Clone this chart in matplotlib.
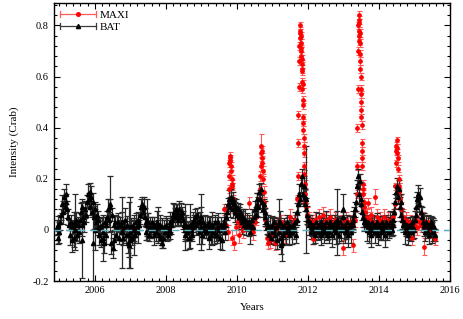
import numpy as np
import matplotlib
matplotlib.use("Agg")
import matplotlib.pyplot as plt
from matplotlib.ticker import MultipleLocator, FuncFormatter
from matplotlib.lines import Line2D
from matplotlib.legend_handler import HandlerBase

plt.rcParams['font.family'] = ['Liberation Serif', 'DejaVu Serif']
plt.rcParams['axes.unicode_minus'] = False

# ---------------- BAT (Swift) daily-ish light curve ----------------
bat_start = 2004.93
bat_step = 0.025
bat_v = [
    .01, -.03, .02, -.01, .03, .06, .10, .07, .13, .09, .14, .11,
    .08, .05, .02, -.02, .03, -.04, .01, .02, -.03, .00, .04, -.02,
    .02, -.01, .04, .07, .02, .09, .05, .03, .08, .06, .11, .14,
    .12, .15, .09, .13, .07, .11, .05, .08, .03, .06, .01, .04,
    -.02, .01, -.04, .02, -.01, -.05, .03, -.02, .02, .05, .08, .04,
    .09, -.05, .06, -.07, .02, -.04, .03, -.02, .01, .03, -.03, .02,
    .02, -.01, .03, -.03, .01, .04, -.02, .02, -.05, -.06, .01, -.04,
    .01, -.03, .02, .00, -.02, .03, .01, -.01, .04, .02, .06, .09,
    .10, .07, .09, .05, .03, -.01, .02, .03, -.02, .01, .00, .03,
    .01, -.02, .02, .00, -.01, .03, .01, -.02, .02, -.03, .01, -.05,
    -.03, .01, -.01, .02, .00, -.02, .01, .03, -.01, .02, .04, .06,
    .07, .05, .08, .06, .07, .04, .08, .05, .06, .07, .04, .02,
    .00, -.02, .02, -.01, .01, -.03, .02, .00, -.02, .03, .01, .04,
    .05, .02, .06, .03, -.01, .04, .01, .05, -.02, .03, .00, .02,
    -.01, .02, .00, -.03, .03, .01, -.02, .02, .00, -.01, .03, -.02,
    .01, -.02, .03, .00, -.03, .02, -.04, .01, .03, -.01, .02, .05,
    .07, .10, .12, .09, .13, .11, .08, .12, .10, .07, .09, .06,
    .08, .05, .07, .04, .06, .03, .05, .02, .04, .01, .03, .02,
    .01, .03, -.01, .02, .04, .01, .05, .08, .06, .10, .12, .09,
    .15, .12, .16, .11, .08, .10, .05, .07, .03, .01, .02, -.02,
    .01, -.03, .02, -.01, .00, .03, -.02, .01, -.04, .02, -.01, .03,
    -.06, -.03, .01, -.02, .02, .00, -.01, .03, .01, -.02, .02, .00,
    .01, -.01, .02, .00, .03, -.02, .04, .07, .10, .14, .12, .18,
    .21, .14, .17, .10, .13, .08, .06, .04, .02, .03, -.01, .01,
    -.01, .02, .00, -.02, .03, .01, -.01, .02, .00, .03, -.02, .01,
    .02, -.01, .01, .03, -.02, .00, .02, -.01, .03, .01, -.02, .02,
    .00, .03, -.01, .02, .04, .01, -.02, .03, .00, .02, .05, .01,
    -.01, .02, .00, .03, -.02, .01, .02, -.01, .03, .02, .04, .06,
    .08, .11, .17, .21, .14, .19, .10, .12, .07, .05, .03, .04,
    .02, .00, .03, -.01, .02, .01, -.02, .03, .00, .02, -.01, .01,
    .03, .00, -.02, .02, .01, -.01, .03, .00, .02, -.02, .01, .03,
    .00, .02, -.01, .03, .01, .00, .02, .04, .07, .11, .15, .17,
    .13, .16, .09, .11, .06, .04, .02, .03, -.01, .01, .02, -.02,
    .01, .00, .02, -.01, .03, .01, .00, .04, .06, .09, .12, .14,
    .10, .13, .07, .05, .03, .01, .02, -.01, .03, .00, .02, -.02,
    .01, .03, -.01, .02, .00, .01, -.02,
]
bat_e = [
    .03, .025, .035, .04, .03, .02, .035, .045, .03, .025, .04, .03,
    .035, .03, .02, .04, .03, .045, .025, .05, .035, .04, .03, .025,
    .03, .04, .025, .035, .045, .03, .02, .04, .035, .03, .025, .04,
    .025, .035, .03, .04, .02, .035, .045, .03, .025, .04, .03, .035,
    .04, .035, .025, .03, .045, .04, .02, .035, .03, .025, .04, .03,
    .03, .045, .025, .04, .035, .04, .03, .02, .045, .035, .025, .03,
    .02, .035, .04, .03, .025, .045, .03, .035, .04, .045, .025, .03,
    .035, .03, .02, .045, .03, .035, .025, .04, .03, .02, .035, .03,
    .03, .025, .04, .035, .02, .03, .045, .035, .025, .04, .03, .02,
    .025, .04, .03, .02, .035, .045, .03, .025, .04, .03, .035, .02,
    .04, .03, .025, .035, .045, .02, .03, .04, .025, .035, .03, .045,
    .03, .035, .02, .04, .03, .025, .035, .03, .045, .02, .035, .03,
    .035, .025, .04, .03, .02, .045, .03, .035, .025, .04, .03, .02,
    .03, .04, .025, .035, .045, .03, .02, .04, .035, .025, .03, .04,
    .02, .035, .03, .045, .025, .04, .035, .03, .02, .045, .03, .025,
    .04, .03, .035, .02, .045, .03, .04, .025, .035, .03, .02, .04,
    .03, .025, .035, .04, .03, .02, .035, .03, .025, .04, .03, .035,
    .025, .04, .03, .035, .02, .045, .03, .025, .04, .03, .035, .02,
    .035, .03, .045, .025, .04, .03, .02, .035, .03, .045, .025, .04,
    .03, .035, .025, .04, .03, .02, .035, .045, .03, .025, .04, .03,
    .04, .025, .035, .03, .045, .02, .04, .03, .035, .025, .03, .045,
    .035, .03, .02, .04, .025, .035, .045, .03, .02, .04, .03, .025,
    .03, .045, .025, .035, .04, .03, .02, .035, .03, .04, .025, .03,
    .03, .035, .04, .025, .03, .045, .035, .02, .04, .03, .025, .035,
    .045, .02, .035, .03, .04, .025, .03, .045, .035, .02, .04, .03,
    .025, .04, .03, .045, .02, .035, .025, .04, .03, .035, .045, .02,
    .035, .03, .045, .02, .035, .04, .03, .025, .045, .03, .02, .04,
    .04, .025, .035, .03, .045, .02, .035, .04, .025, .03, .035, .03,
    .03, .035, .025, .03, .04, .03, .035, .025, .03, .04, .035, .03,
    .02, .045, .03, .04, .025, .035, .045, .03, .02, .035, .04, .03,
    .035, .025, .04, .02, .045, .03, .025, .04, .035, .045, .02, .03,
    .04, .03, .02, .045, .035, .025, .04, .03, .035, .03, .025, .035,
    .03, .035, .04, .03, .025, .035, .03, .02, .045, .035, .025, .04,
    .025, .04, .03, .035, .02, .045, .03, .035, .025, .04, .03, .035,
    .03, .035, .025, .04, .03, .02, .045, .035, .025, .03, .04, .035,
    .035, .025, .04, .03, .045, .03, .025,
]
# BAT points with large uncertainties
batx_t = [2005.44, 2005.63, 2005.94, 2006.00, 2006.23, 2006.42, 2006.76, 2006.97,
          2007.00, 2007.10, 2007.46, 2007.77, 2008.55, 2008.68, 2009.00, 2009.30,
          2011.20, 2011.27, 2011.95, 2012.82, 2012.98]
batx_v = [.03, -.04, -.05, .00, -.03, .10, -.01, -.02,
          -.01, -.02, .04, .02, .01, .015, .03, .005,
          .03, -.05, .12, .03, .08]
batx_e = [.11, .15, .15, .08, .09, .11, .14, .13,
          .14, .08, .08, .07, .09, .085, .11, .065,
          .09, .07, .21, .13, .06]

# ---------------- MAXI light curve ----------------
maxi_t = [2009.65, 2009.70, 2009.75, 2009.87, 2009.92, 2009.97, 2010.02, 2010.07, 2010.12,
          2010.17, 2010.22, 2010.27, 2010.34, 2010.40, 2010.45, 2010.50, 2010.55, 2010.80,
          2010.85, 2010.88, 2010.92, 2010.97, 2011.02, 2011.08, 2011.14, 2011.20, 2011.25,
          2011.30, 2011.36, 2011.42, 2011.49, 2011.55, 2011.60, 2011.65, 2011.97, 2012.02,
          2012.07, 2012.12, 2012.15, 2012.20, 2012.25, 2012.30, 2012.35, 2012.42, 2012.47,
          2012.52, 2012.57, 2012.62, 2012.67, 2012.72, 2012.77, 2012.87, 2012.93, 2012.98,
          2013.03, 2013.08, 2013.13, 2013.18, 2013.22, 2013.27, 2013.32, 2013.62, 2013.66,
          2013.69, 2013.74, 2013.78, 2013.83, 2013.89, 2013.94, 2013.99, 2014.04, 2014.09,
          2014.14, 2014.19, 2014.24, 2014.29, 2014.34, 2014.39, 2014.62, 2014.67, 2014.72,
          2014.77, 2014.82, 2014.87, 2014.93, 2014.98, 2015.03, 2015.08, 2015.13, 2015.18,
          2015.23, 2015.27, 2015.32, 2015.37, 2015.42, 2015.47, 2015.52, 2015.58]
maxi_v = [.08, .02, -.01, -.03, -.05, .01, .03, -.02, .02,
          .00, .03, .01, .105, .02, -.01, .03, .05, .04,
          -.03, -.05, -.04, -.02, .01, -.05, .02, .00, .03,
          .01, -.02, .02, .05, .01, .03, .04, .06, .04,
          .02, .03, -.035, .04, .02, .05, .01, .06, .03,
          .04, .02, .05, .01, .03, .04, .02, .03, -.07,
          .02, .04, .01, .03, .02, -.06, .04, .07, .05,
          .105, .04, .06, .03, .13, .05, .02, .04, .03,
          .05, .02, .04, .01, .03, .05, .08, .05, .03,
          .04, .01, .03, -.03, .02, .04, .01, .03, .02,
          .04, -.065, .01, .03, .00, .02, .01, -.035]
maxi_e = [.02, .03, .03, .03, .03, .03, .03, .03, .03,
          .03, .03, .03, .025, .03, .03, .03, .03, .03,
          .03, .025, .03, .03, .03, .03, .03, .03, .03,
          .03, .03, .03, .03, .03, .03, .03, .03, .03,
          .03, .03, .02, .03, .03, .03, .03, .03, .03,
          .03, .03, .03, .03, .03, .03, .03, .03, .03,
          .03, .03, .03, .03, .03, .025, .03, .03, .03,
          .02, .03, .03, .03, .03, .03, .03, .03, .03,
          .03, .03, .03, .03, .03, .03, .03, .03, .03,
          .03, .03, .03, .03, .03, .03, .03, .03, .03,
          .03, .035, .03, .03, .03, .03, .03, .025]
# MAXI outbursts
maxi_ob_t = [2009.77, 2009.78, 2009.79, 2009.80, 2009.81, 2009.82, 2009.83, 2009.84, 2009.85,
             2009.86, 2009.87, 2009.88, 2009.90,
             2010.64, 2010.65, 2010.66, 2010.67, 2010.68, 2010.69, 2010.70, 2010.71, 2010.72,
             2010.73, 2010.74, 2010.75, 2010.76,
             2011.70, 2011.71, 2011.72, 2011.73, 2011.74, 2011.75, 2011.76, 2011.77, 2011.78,
             2011.785, 2011.79, 2011.795, 2011.80, 2011.805, 2011.81, 2011.815, 2011.82,
             2011.825, 2011.83, 2011.835, 2011.84, 2011.845, 2011.85, 2011.855, 2011.86,
             2011.865, 2011.87, 2011.875, 2011.88, 2011.885, 2011.89, 2011.895, 2011.90,
             2011.91, 2011.92, 2011.93, 2011.94,
             2013.37, 2013.38, 2013.39, 2013.40, 2013.41, 2013.42, 2013.425, 2013.43, 2013.435,
             2013.44, 2013.445, 2013.45, 2013.455, 2013.46, 2013.465, 2013.47, 2013.475,
             2013.48, 2013.485, 2013.49, 2013.495, 2013.50, 2013.505, 2013.51, 2013.515,
             2013.52, 2013.525, 2013.53, 2013.54, 2013.55, 2013.56, 2013.57, 2013.58,
             2014.45, 2014.46, 2014.47, 2014.48, 2014.49, 2014.50, 2014.51, 2014.52, 2014.53,
             2014.54, 2014.55, 2014.56, 2014.57, 2014.58]
maxi_ob_v = [.16, .21, .26, .28, .27, .29, .25, .23, .20,
             .18, .17, .12, .08,
             .12, .16, .21, .25, .30, .33, .31, .28, .26,
             .23, .20, .15, .11,
             .12, .21, .34, .45, .56, .66, .72, .77, .80,
             .78, .75, .73, .76, .70, .68, .71, .65,
             .63, .67, .62, .58, .55, .57, .51, .49,
             .44, .42, .39, .36, .33, .30, .25, .22,
             .18, .14, .11, .09,
             .14, .25, .40, .55, .70, .80, .84, .82, .78,
             .81, .76, .74, .77, .73, .69, .66, .63,
             .60, .55, .53, .50, .47, .44, .41, .34,
             .31, .28, .25, .18, .16, .14, .11, .09,
             .10, .17, .26, .31, .33, .35, .32, .30, .28,
             .24, .20, .17, .15, .12]
maxi_ob_e = [.015, .015, .015, .015, .015, .015, .015, .015, .015,
             .015, .015, .015, .015,
             .02, .02, .02, .02, .02, .045, .02, .02, .02,
             .02, .02, .02, .02,
             .015, .015, .015, .015, .015, .015, .015, .015, .015,
             .015, .015, .015, .015, .015, .015, .015, .015,
             .015, .015, .015, .015, .015, .015, .015, .015,
             .015, .015, .015, .015, .015, .015, .015, .015,
             .015, .015, .015, .015,
             .015, .015, .015, .015, .015, .015, .015, .015, .015,
             .015, .015, .015, .015, .015, .015, .015, .015,
             .015, .015, .015, .015, .015, .015, .015, .015,
             .015, .015, .015, .015, .015, .015, .015, .015,
             .015, .015, .015, .015, .015, .015, .015, .015, .015,
             .015, .015, .015, .015, .015]

x_ticks = [2006, 2008, 2010, 2012, 2014, 2016]
y_ticks = [-0.2, 0, 0.2, 0.4, 0.6, 0.8]


class HandlerHErr(HandlerBase):
    """Legend key drawn as a horizontal error bar with a marker in the middle."""
    def __init__(self, color, ecolor, marker, ms):
        super().__init__()
        self.color, self.ecolor, self.marker, self.ms = color, ecolor, marker, ms

    def create_artists(self, legend, orig_handle, xdescent, ydescent, width, height,
                       fontsize, trans):
        y = height / 2.0 - ydescent
        x0, x1 = -xdescent, width - xdescent
        cap = 2.2
        arts = [
            Line2D([x0, x1], [y, y], color=self.ecolor, lw=0.9),
            Line2D([x0, x0], [y - cap, y + cap], color=self.ecolor, lw=0.9),
            Line2D([x1, x1], [y - cap, y + cap], color=self.ecolor, lw=0.9),
            Line2D([(x0 + x1) / 2], [y], marker=self.marker, ms=self.ms, color=self.color,
                   mec=self.color, ls='none'),
        ]
        for a in arts:
            a.set_transform(trans)
        return arts


# ---------------- plotting ----------------
fig = plt.figure(figsize=(4.64, 3.19), dpi=100)
ax = fig.add_axes([0.116, 0.119, 0.854, 0.871])

red_kw = dict(fmt='o', color='#ff0000', ms=2.4, mec='#ff0000', ecolor='#ff5a5a',
              elinewidth=0.8, capsize=1.8, capthick=0.8)
blk_kw = dict(fmt='^', color='black', ms=3.0, mec='black', ecolor='#2a2a2a',
              elinewidth=0.9, capsize=2.0, capthick=0.9)

ax.errorbar(maxi_t, maxi_v, yerr=maxi_e, **red_kw)
ax.errorbar(maxi_ob_t, maxi_ob_v, yerr=maxi_ob_e, **red_kw)

bat_t = bat_start + bat_step * np.arange(len(bat_v))
ax.errorbar(bat_t, bat_v, yerr=bat_e, **blk_kw)
ax.errorbar(batx_t, batx_v, yerr=batx_e, **blk_kw)

ax.axhline(0, color='#5db3c2', lw=1.0, ls=(0, (5, 3.5)), zorder=10)

ax.set_xlim(2004.85, 2016.0)
ax.set_ylim(-0.2, 0.887)
ax.set_xticks(x_ticks)
ax.set_yticks(y_ticks)
ax.xaxis.set_minor_locator(MultipleLocator(0.2))
ax.yaxis.set_minor_locator(MultipleLocator(0.04))
ax.yaxis.set_major_formatter(FuncFormatter(lambda v, p: '%g' % round(v, 2)))
ax.tick_params(which='both', direction='in', top=True, right=True, labelsize=7.5, width=0.8)
ax.tick_params(which='major', length=4)
ax.tick_params(which='minor', length=2)
for s in ax.spines.values():
    s.set_linewidth(1.0)

ax.set_xlabel('Years', fontsize=8, labelpad=6)
ax.set_ylabel('Intensity (Crab)', fontsize=8, labelpad=10)

h_maxi = Line2D([], [], label='MAXI')
h_bat = Line2D([], [], label='BAT')
ax.legend(handles=[h_maxi, h_bat], loc='upper left', frameon=False, fontsize=8,
          handlelength=3.2, handletextpad=0.3, borderaxespad=0.3, labelspacing=0.2,
          borderpad=0.3,
          handler_map={h_maxi: HandlerHErr('#ff0000', '#ff5a5a', 'o', 2.6),
                       h_bat: HandlerHErr('black', '#3a3a3a', '^', 3.0)})

fig.savefig('out.png', dpi=100)
